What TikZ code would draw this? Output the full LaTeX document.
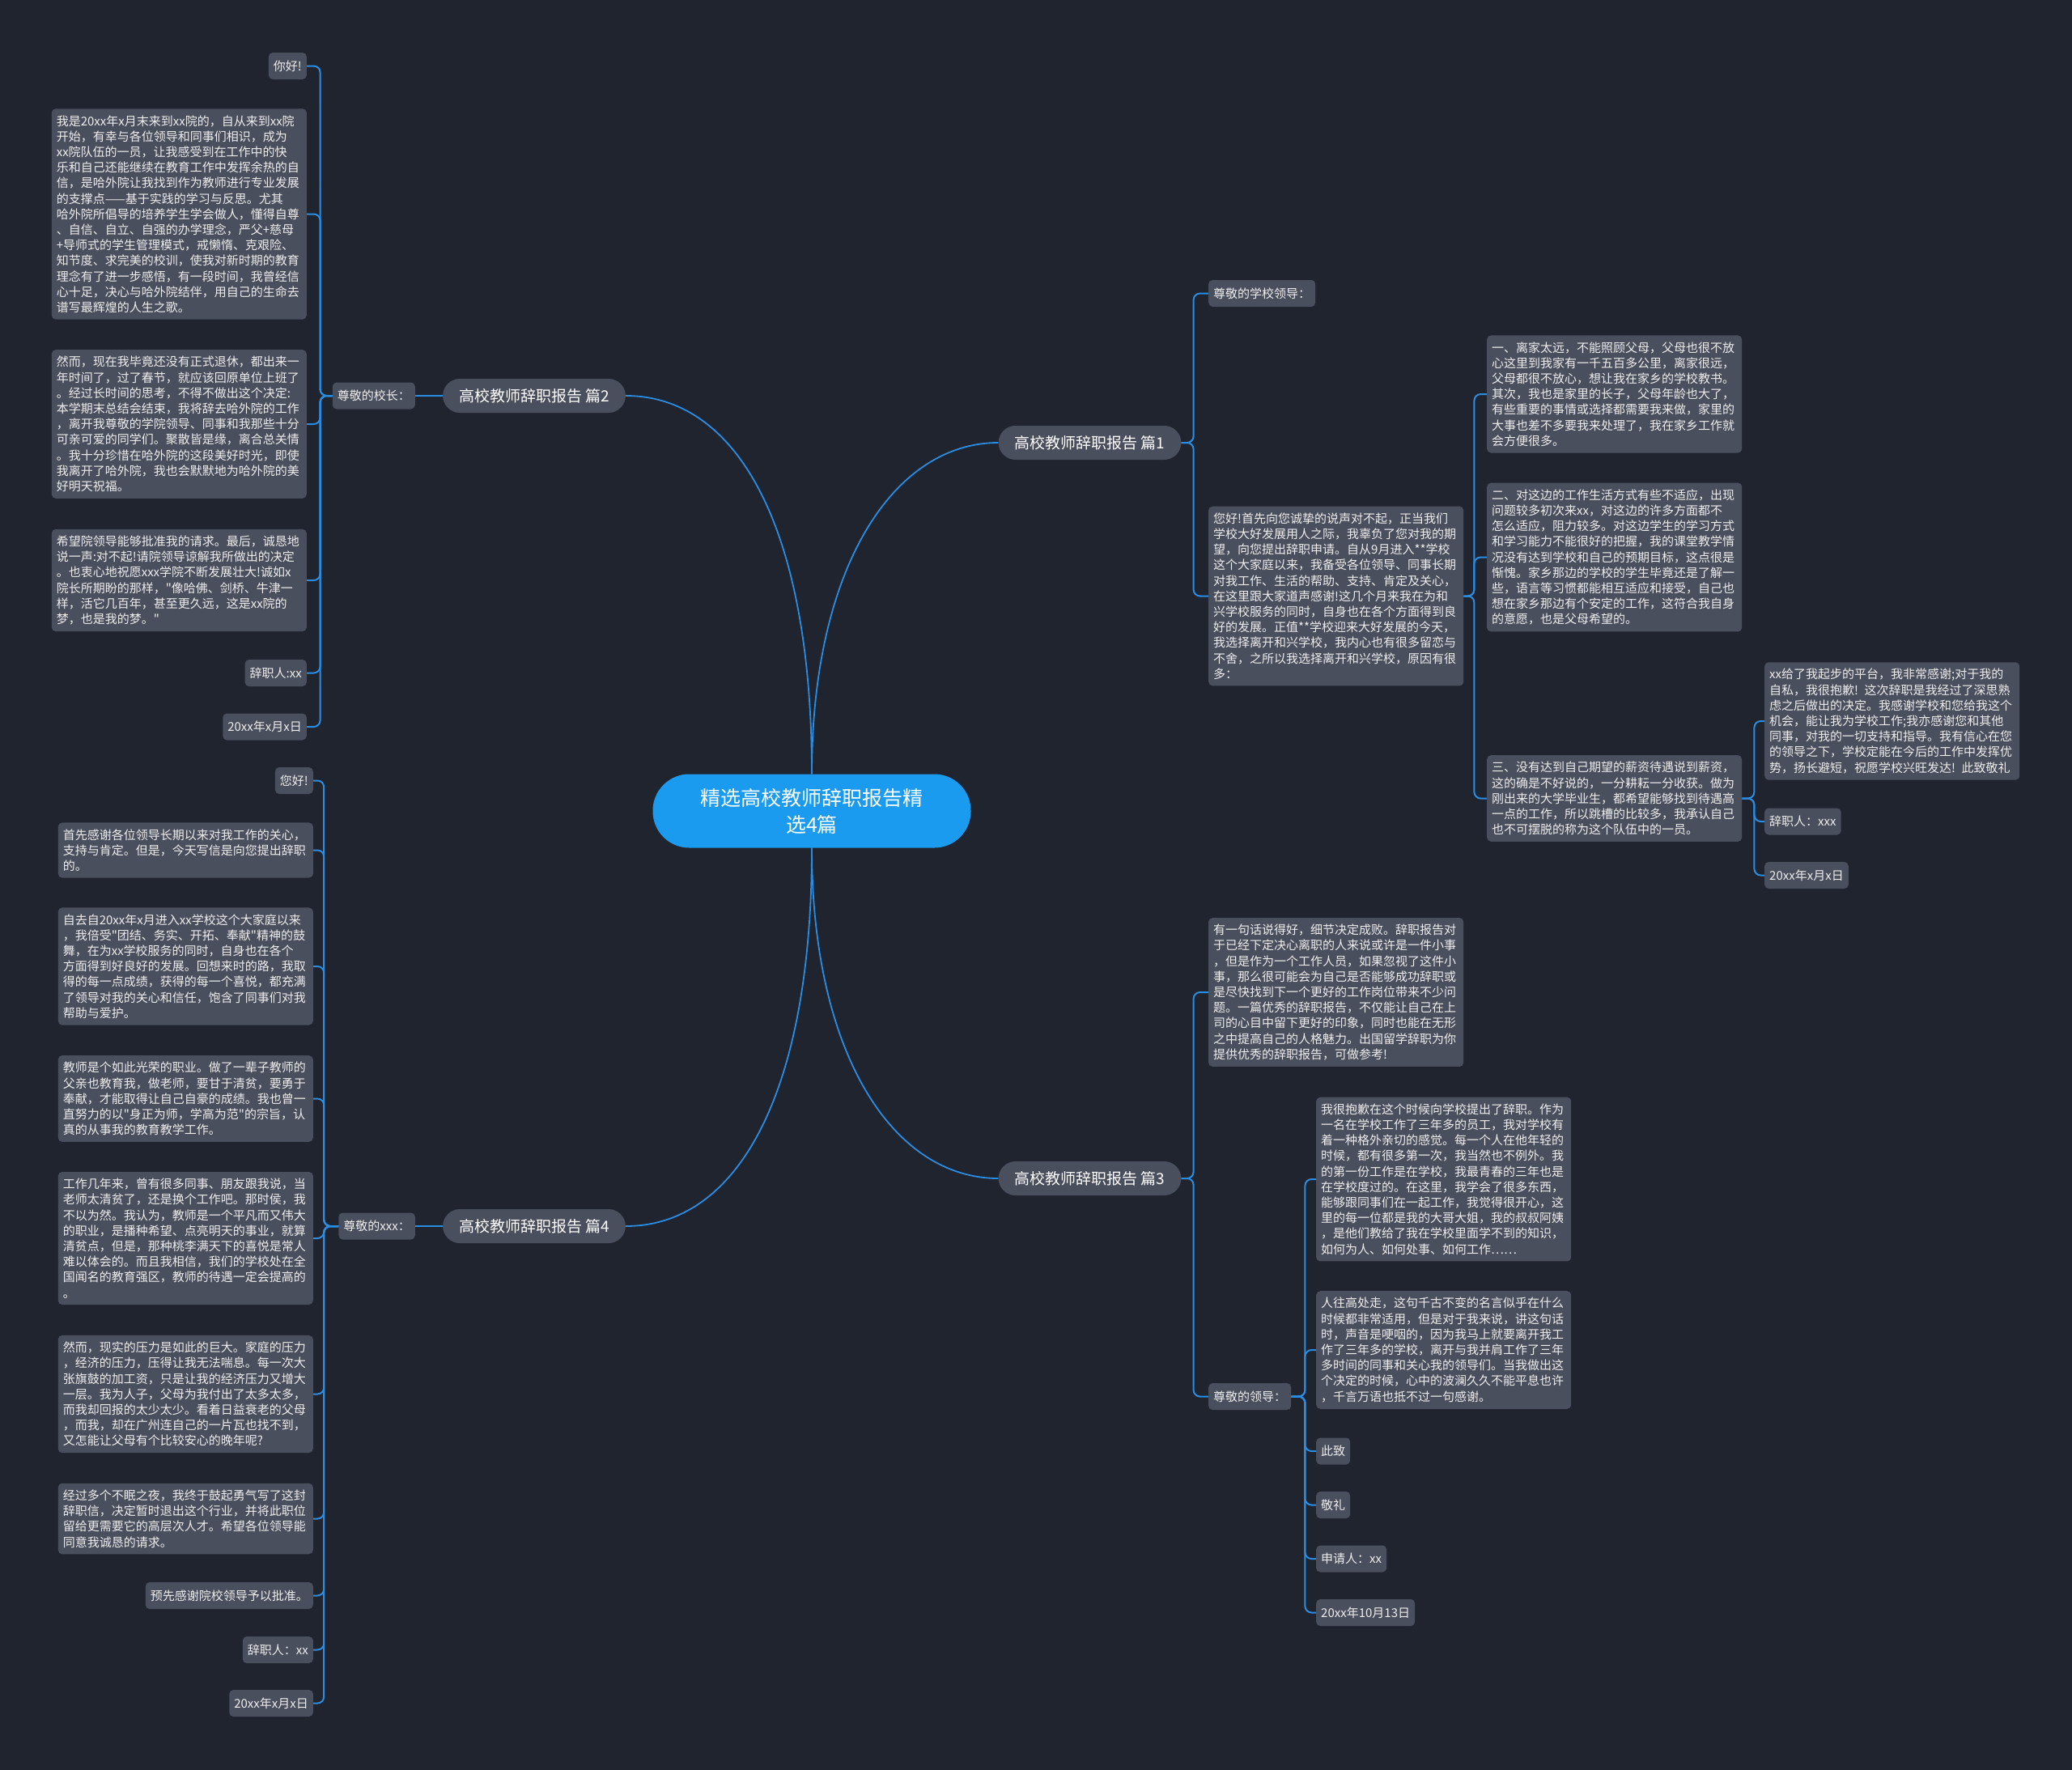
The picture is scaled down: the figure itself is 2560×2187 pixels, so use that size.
\documentclass[tikz,border=0pt]{standalone}
\usepackage{fontspec}
\newfontfamily\cjkf{Noto Sans CJK SC}
\definecolor{bg}{HTML}{20242F}
\definecolor{nodefill}{HTML}{4A4F5D}
\definecolor{txt}{HTML}{EEEEEE}
\definecolor{wire}{HTML}{2A8DE2}
\definecolor{hub}{HTML}{1A9BF0}
\tikzset{
  leaf/.style={fill=nodefill, rounded corners=5pt, text=txt, inner xsep=6pt, inner ysep=8pt,
    font=\cjkf\fontsize{15}{19.2}\selectfont, align=left},
  para/.style={leaf, text width=303pt},
  short/.style={leaf, minimum height=33pt},
  topic/.style={fill=nodefill, rounded corners=21pt, text=white, inner xsep=20pt,
    minimum height=42pt, font=\cjkf\fontsize{19}{22}\selectfont},
  hubnode/.style={fill=hub, rounded corners=45pt, text=white, minimum width=393pt,
    minimum height=91pt, align=center, font=\cjkf\fontsize{25}{33}\selectfont},
  link/.style={draw=wire, line width=1.8pt},
  bus/.style={draw=wire, line width=2pt, rounded corners=8pt}
}
\begin{document}
\begin{tikzpicture}[x=1pt, y=-1pt]
\useasboundingbox (0,0) rectangle (2560,2187);
\fill[bg] (0,0) rectangle (2560,2187);

% center and topics
\node[hubnode] (c) at (1003,1002) {精选高校教师辞职报告精\\选4篇};
\node[topic] (b2) at (660,489) {高校教师辞职报告 篇2};
\node[topic] (b1) at (1346.5,547) {高校教师辞职报告 篇1};
\node[topic] (b3) at (1346.5,1456) {高校教师辞职报告 篇3};
\node[topic] (b4) at (660,1515) {高校教师辞职报告 篇4};

\draw[link] (c.north) .. controls +(0,-300) and +(140,0) .. (b2.east);
\draw[link] (c.north) .. controls +(0,-256) and +(-129,0) .. (b1.west);
\draw[link] (c.south) .. controls +(0,256) and +(-129,0) .. (b3.west);
\draw[link] (c.south) .. controls +(0,300) and +(140,0) .. (b4.east);

% ===== 篇2 =====
\node[short, anchor=east] (k2) at (513,489) {尊敬的校长：};
\draw[bus] (b2.west) -- (k2.east);
\node[short, anchor=east] (a0) at (379,81.5) {你好!};
\node[para, anchor=east] (a1) at (379,264.5) {我是20xx年x月末来到xx院的，自从来到xx院\\开始，有幸与各位领导和同事们相识，成为\\xx院队伍的一员，让我感受到在工作中的快\\乐和自己还能继续在教育工作中发挥余热的自\\信，是哈外院让我找到作为教师进行专业发展\\的支撑点——基于实践的学习与反思。尤其\\哈外院所倡导的培养学生学会做人，懂得自尊\\、自信、自立、自强的办学理念，严父+慈母\\+导师式的学生管理模式，戒懒惰、克艰险、\\知节度、求完美的校训，使我对新时期的教育\\理念有了进一步感悟，有一段时间，我曾经信\\心十足，决心与哈外院结伴，用自己的生命去\\谱写最辉煌的人生之歌。};
\node[para, anchor=east] (a2) at (379,524) {然而，现在我毕竟还没有正式退休，都出来一\\年时间了，过了春节，就应该回原单位上班了\\。经过长时间的思考，不得不做出这个决定:\\本学期末总结会结束，我将辞去哈外院的工作\\，离开我尊敬的学院领导、同事和我那些十分\\可亲可爱的同学们。聚散皆是缘，离合总关情\\。我十分珍惜在哈外院的这段美好时光，即使\\我离开了哈外院，我也会默默地为哈外院的美\\好明天祝福。};
\node[para, anchor=east] (a3) at (379,717) {希望院领导能够批准我的请求。最后，诚恳地\\说一声:对不起!请院领导谅解我所做出的决定\\。也衷心地祝愿xxx学院不断发展壮大!诚如x\\院长所期盼的那样，"像哈佛、剑桥、牛津一\\样，活它几百年，甚至更久远，这是xx院的\\梦，也是我的梦。"};
\node[short, anchor=east] (a4) at (379,831.5) {辞职人:xx};
\node[short, anchor=east] (a5) at (379,898) {20xx年x月x日};
\foreach \n in {a0,a1,a2,a3,a4,a5}
  \draw[bus] (k2.west) -- ++(-15,0) |- (\n.east);

% ===== 篇4 =====
\node[short, anchor=east] (k4) at (513,1515) {尊敬的xxx：};
\draw[bus] (b4.west) -- (k4.east);
\node[short, anchor=east] (d0) at (387,964.5) {您好!};
\node[para, anchor=east] (d1) at (387,1050.5) {首先感谢各位领导长期以来对我工作的关心，\\支持与肯定。但是，今天写信是向您提出辞职\\的。};
\node[para, anchor=east] (d2) at (387,1194) {自去自20xx年x月进入xx学校这个大家庭以来\\，我倍受"团结、务实、开拓、奉献"精神的鼓\\舞，在为xx学校服务的同时，自身也在各个\\方面得到好良好的发展。回想来时的路，我取\\得的每一点成绩，获得的每一个喜悦，都充满\\了领导对我的关心和信任，饱含了同事们对我\\帮助与爱护。};
\node[para, anchor=east] (d3) at (387,1357.5) {教师是个如此光荣的职业。做了一辈子教师的\\父亲也教育我，做老师，要甘于清贫，要勇于\\奉献，才能取得让自己自豪的成绩。我也曾一\\直努力的以"身正为师，学高为范"的宗旨，认\\真的从事我的教育教学工作。};
\node[para, anchor=east] (d4) at (387,1530) {工作几年来，曾有很多同事、朋友跟我说，当\\老师太清贫了，还是换个工作吧。那时侯，我\\不以为然。我认为，教师是一个平凡而又伟大\\的职业，是播种希望、点亮明天的事业，就算\\清贫点，但是，那种桃李满天下的喜悦是常人\\难以体会的。而且我相信，我们的学校处在全\\国闻名的教育强区，教师的待遇一定会提高的\\。};
\node[para, anchor=east] (d5) at (387,1722.5) {然而，现实的压力是如此的巨大。家庭的压力\\，经济的压力，压得让我无法喘息。每一次大\\张旗鼓的加工资，只是让我的经济压力又增大\\一层。我为人子，父母为我付出了太多太多，\\而我却回报的太少太少。看着日益衰老的父母\\，而我，却在广州连自己的一片瓦也找不到，\\又怎能让父母有个比较安心的晚年呢?};
\node[para, anchor=east] (d6) at (387,1876.5) {经过多个不眠之夜，我终于鼓起勇气写了这封\\辞职信，决定暂时退出这个行业，并将此职位\\留给更需要它的高层次人才。希望各位领导能\\同意我诚恳的请求。};
\node[short, anchor=east] (d7) at (387,1971.5) {预先感谢院校领导予以批准。};
\node[short, anchor=east] (d8) at (387,2038.5) {辞职人：xx};
\node[short, anchor=east] (d9) at (387,2104.5) {20xx年x月x日};
\foreach \n in {d0,d1,d2,d3,d4,d5,d6,d7,d8,d9}
  \draw[bus] (k4.west) -- ++(-18,0) |- (\n.east);

% ===== 篇1 =====
\node[short, anchor=west] (k1) at (1493,362.5) {尊敬的学校领导：};
\node[para, anchor=west] (cm) at (1493,736.5) {您好!首先向您诚挚的说声对不起，正当我们\\学校大好发展用人之际，我辜负了您对我的期\\望，向您提出辞职申请。自从9月进入**学校\\这个大家庭以来，我备受各位领导、同事长期\\对我工作、生活的帮助、支持、肯定及关心，\\在这里跟大家道声感谢!这几个月来我在为和\\兴学校服务的同时，自身也在各个方面得到良\\好的发展。正值**学校迎来大好发展的今天，\\我选择离开和兴学校，我内心也有很多留恋与\\不舍，之所以我选择离开和兴学校，原因有很\\多：};
\foreach \n in {k1,cm}
  \draw[bus] (b1.east) -- ++(15,0) |- (\n.west);
\node[para, anchor=west] (c1) at (1837,487) {一、离家太远，不能照顾父母，父母也很不放\\心这里到我家有一千五百多公里，离家很远，\\父母都很不放心，想让我在家乡的学校教书。\\其次，我也是家里的长子，父母年龄也大了，\\有些重要的事情或选择都需要我来做，家里的\\大事也差不多要我来处理了，我在家乡工作就\\会方便很多。};
\node[para, anchor=west] (c2) at (1837,688.5) {二、对这边的工作生活方式有些不适应，出现\\问题较多初次来xx，对这边的许多方面都不\\怎么适应，阻力较多。对这边学生的学习方式\\和学习能力不能很好的把握，我的课堂教学情\\况没有达到学校和自己的预期目标，这点很是\\惭愧。家乡那边的学校的学生毕竟还是了解一\\些，语言等习惯都能相互适应和接受，自己也\\想在家乡那边有个安定的工作，这符合我自身\\的意愿，也是父母希望的。};
\node[para, anchor=west] (c3) at (1837,986.5) {三、没有达到自己期望的薪资待遇说到薪资，\\这的确是不好说的，一分耕耘一分收获。做为\\刚出来的大学毕业生，都希望能够找到待遇高\\一点的工作，所以跳槽的比较多，我承认自己\\也不可摆脱的称为这个队伍中的一员。};
\foreach \n in {c1,c2,c3}
  \draw[bus] (cm.east) -- ++(13,0) |- (\n.west);
\node[para, anchor=west] (e1) at (2180,891) {xx给了我起步的平台，我非常感谢;对于我的\\自私，我很抱歉! 这次辞职是我经过了深思熟\\虑之后做出的决定。我感谢学校和您给我这个\\机会，能让我为学校工作;我亦感谢您和其他\\同事，对我的一切支持和指导。我有信心在您\\的领导之下，学校定能在今后的工作中发挥优\\势，扬长避短，祝愿学校兴旺发达! 此致敬礼};
\node[short, anchor=west] (e2) at (2180,1015) {辞职人：xxx};
\node[short, anchor=west] (e3) at (2180,1081.5) {20xx年x月x日};
\foreach \n in {e1,e2,e3}
  \draw[bus] (c3.east) -- ++(15,0) |- (\n.west);

% ===== 篇3 =====
\node[para, anchor=west] (g1) at (1493,1226) {有一句话说得好，细节决定成败。辞职报告对\\于已经下定决心离职的人来说或许是一件小事\\，但是作为一个工作人员，如果忽视了这件小\\事，那么很可能会为自己是否能够成功辞职或\\是尽快找到下一个更好的工作岗位带来不少问\\题。一篇优秀的辞职报告，不仅能让自己在上\\司的心目中留下更好的印象，同时也能在无形\\之中提高自己的人格魅力。出国留学辞职为你\\提供优秀的辞职报告，可做参考!};
\node[short, anchor=west] (g2) at (1493,1725.5) {尊敬的领导：};
\foreach \n in {g1,g2}
  \draw[bus] (b3.east) -- ++(15,0) |- (\n.west);
\node[para, anchor=west] (f1) at (1626,1457) {我很抱歉在这个时候向学校提出了辞职。作为\\一名在学校工作了三年多的员工，我对学校有\\着一种格外亲切的感觉。每一个人在他年轻的\\时候，都有很多第一次，我当然也不例外。我\\的第一份工作是在学校，我最青春的三年也是\\在学校度过的。在这里，我学会了很多东西，\\能够跟同事们在一起工作，我觉得很开心，这\\里的每一位都是我的大哥大姐，我的叔叔阿姨\\，是他们教给了我在学校里面学不到的知识，\\如何为人、如何处事、如何工作……};
\node[para, anchor=west] (f2) at (1626,1668) {人往高处走，这句千古不变的名言似乎在什么\\时候都非常适用，但是对于我来说，讲这句话\\时，声音是哽咽的，因为我马上就要离开我工\\作了三年多的学校，离开与我并肩工作了三年\\多时间的同事和关心我的领导们。当我做出这\\个决定的时候，心中的波澜久久不能平息也许\\，千言万语也抵不过一句感谢。};
\node[short, anchor=west] (f3) at (1626,1793) {此致};
\node[short, anchor=west] (f4) at (1626,1859.5) {敬礼};
\node[short, anchor=west] (f5) at (1626,1926) {申请人：xx};
\node[short, anchor=west] (f6) at (1626,1992.5) {20xx年10月13日};
\foreach \n in {f1,f2,f3,f4,f5,f6}
  \draw[bus] (g2.east) -- ++(17,0) |- (\n.west);
\end{tikzpicture}
\end{document}
